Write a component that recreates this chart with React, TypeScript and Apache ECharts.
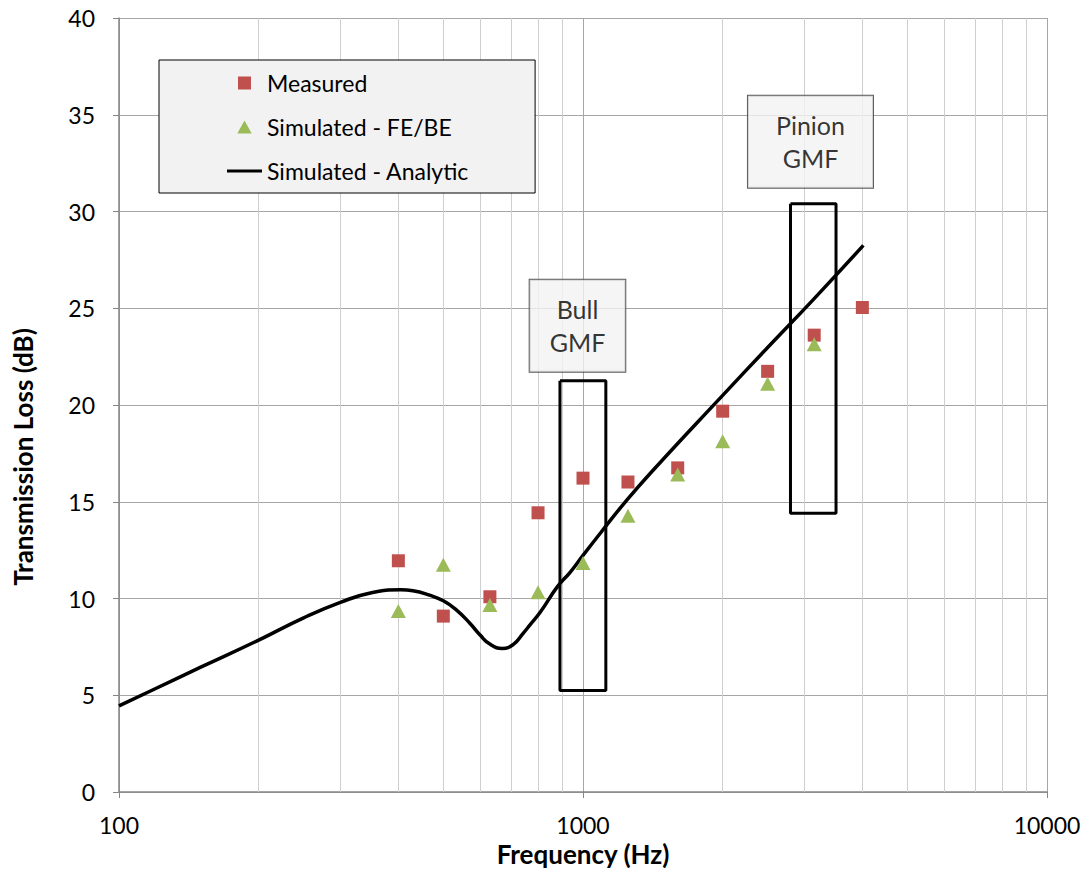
import React, { useEffect, useRef } from "react";
import * as echarts from "echarts";

// ---- data ----
const measuredFreq = [400, 500, 630, 800, 1000, 1250, 1600, 2000, 2500, 3150, 4000];
const measuredTL = [11.95, 9.09, 10.09, 14.43, 16.22, 16.02, 16.75, 19.68, 21.74, 23.61, 25.04];

const feFreq = [400, 500, 630, 800, 1000, 1250, 1600, 2000, 2500, 3150];
const feTL = [9.36, 11.75, 9.67, 10.32, 11.83, 14.28, 16.41, 18.13, 21.1, 23.14];

const analyticFreq = [100, 120, 150, 200, 250, 300, 350, 405, 430, 467, 500, 534, 571, 600, 631, 670, 708, 743, 768, 810, 880, 940, 1000, 1100, 1220, 1400, 2000, 2500, 3150, 4020];
const analyticTL = [4.45, 5.35, 6.45, 7.85, 9.0, 9.8, 10.3, 10.45, 10.4, 10.17, 9.88, 9.4, 8.71, 8.11, 7.63, 7.42, 7.63, 8.2, 8.62, 9.31, 10.6, 11.38, 12.23, 13.5, 14.85, 16.5, 20.5, 22.97, 25.5, 28.25];

const bullBoxFreq = [892, 1120];
const bullBoxTL = [5.25, 21.25];
const pinionBoxFreq = [2800, 3510];
const pinionBoxTL = [14.4, 30.4];

const bullLabelPos = [973, 24.1];
const pinionLabelPos = [3092, 33.6];

const minorGridFreq = [200, 300, 400, 500, 600, 700, 800, 900, 2000, 3000, 4000, 5000, 6000, 7000, 8000, 9000];

const xMin = 100;
const xMax = 10000;
const yMin = 0;
const yMax = 40;
const yInterval = 5;

const seriesNames = ["Measured", "Simulated - FE/BE", "Simulated - Analytic"];

const FONT = "Lato";

function boxPoints(fs: number[], ts: number[]) {
  return [
    [fs[0], ts[1]],
    [fs[1], ts[1]],
    [fs[1], ts[0]],
    [fs[0], ts[0]],
    [fs[0], ts[1]],
  ];
}

export default function App() {
  const ref = useRef<HTMLDivElement>(null);

  useEffect(() => {
    document.body.style.margin = "0";
    document.body.style.overflow = "hidden";
    if (!ref.current) return;
    const chart = echarts.init(ref.current, null, { renderer: "svg" });

    const labelBase = {
      show: true,
      position: "inside",
      color: "#000",
      fontFamily: FONT,
      fontSize: 25,
      lineHeight: 33,
      backgroundColor: "#f2f2f2",
      borderColor: "#333333",
      borderWidth: 1,
    };

    chart.setOption({
      animation: false,
      textStyle: { fontFamily: FONT },
      grid: { left: 119, right: 39, top: 18, bottom: 78, containLabel: false },
      legend: {
        data: [
          { name: seriesNames[0], icon: "path://M0,0H10V10H0Z" },
          { name: seriesNames[1], icon: "path://M5,0L10,9H0Z" },
          { name: seriesNames[2], icon: "path://M0,0H35V3H0Z" },
        ],
        orient: "vertical",
        left: 159,
        top: 60,
        itemWidth: 35,
        itemHeight: 13,
        itemGap: 20,
        padding: [11, 66, 10, 68],
        backgroundColor: "#f2f2f2",
        borderColor: "#000",
        borderWidth: 1,
        borderRadius: 0,
        textStyle: { fontFamily: FONT, fontSize: 23, color: "#000", lineHeight: 24 },
        selectedMode: false,
      },
      xAxis: {
        type: "log",
        logBase: 10,
        min: xMin,
        max: xMax,
        name: "Frequency (Hz)",
        nameLocation: "middle",
        nameGap: 49,
        nameTextStyle: { fontFamily: FONT, fontSize: 26, fontWeight: "bold", color: "#000" },
        axisLine: { show: true, onZero: false, lineStyle: { color: "#868686", width: 1.5 } },
        axisTick: { show: true, inside: false, length: 6, lineStyle: { color: "#868686" } },
        axisLabel: {
          margin: 21,
          fontSize: 23,
          color: "#000",
          fontFamily: FONT,
          formatter: (v: number) => String(Math.round(v)),
        },
        splitLine: { show: true, lineStyle: { color: "#a6a6a6", width: 1 } },
        minorTick: { show: false },
        minorSplitLine: { show: false },
      },
      yAxis: {
        type: "value",
        min: yMin,
        max: yMax,
        interval: yInterval,
        name: "Transmission Loss (dB)",
        nameLocation: "middle",
        nameRotate: 90,
        nameGap: 83,
        nameTextStyle: {
          fontFamily: FONT,
          fontSize: 26,
          fontWeight: "bold",
          color: "#000",
          padding: [0, 104, 0, 0],
        },
        axisLine: { show: true, lineStyle: { color: "#868686", width: 1.5 } },
        axisTick: { show: true, inside: false, length: 6, lineStyle: { color: "#868686" } },
        axisLabel: { margin: 24, fontSize: 23, color: "#000", fontFamily: FONT },
        splitLine: { show: true, lineStyle: { color: "#a6a6a6", width: 1 } },
      },
      series: [
        {
          name: seriesNames[0],
          type: "scatter",
          symbol: "rect",
          symbolSize: 13,
          itemStyle: { color: "#c0504d", opacity: 1 },
          data: measuredFreq.map((f, i) => [f, measuredTL[i]]),
          z: 4,
        },
        {
          name: seriesNames[1],
          type: "scatter",
          symbol: "triangle",
          symbolSize: [15, 14],
          itemStyle: { color: "#9bbb59", opacity: 1 },
          data: feFreq.map((f, i) => [f, feTL[i]]),
          z: 4,
        },
        {
          name: seriesNames[2],
          type: "line",
          symbol: "none",
          showSymbol: false,
          smooth: 0.5,
          lineStyle: { color: "#000", width: 3.5 },
          itemStyle: { color: "#000" },
          data: analyticFreq.map((f, i) => [f, analyticTL[i]]),
          z: 3,
          markLine: {
            silent: true,
            z: 1,
            symbol: ["none", "none"],
            label: { show: false },
            lineStyle: { color: "#cfcfcf", width: 1, type: "solid" },
            data: minorGridFreq.map((f) => ({ xAxis: f })),
          },
        },
        {
          name: "Bull box",
          type: "line",
          symbol: "none",
          lineStyle: { color: "#000", width: 3 },
          data: boxPoints(bullBoxFreq, bullBoxTL),
          z: 3,
        },
        {
          name: "Pinion box",
          type: "line",
          symbol: "none",
          lineStyle: { color: "#000", width: 3 },
          data: boxPoints(pinionBoxFreq, pinionBoxTL),
          z: 3,
        },
        {
          name: "Bull label",
          type: "scatter",
          symbolSize: 1,
          itemStyle: { color: "transparent" },
          z: 5,
          label: { ...labelBase, formatter: "Bull\nGMF", padding: [13, 20, 13, 20] },
          data: [bullLabelPos],
        },
        {
          name: "Pinion label",
          type: "scatter",
          symbolSize: 1,
          itemStyle: { color: "transparent" },
          z: 5,
          label: { ...labelBase, formatter: "Pinion\nGMF", padding: [13, 28, 13, 28] },
          data: [pinionLabelPos],
        },
      ],
    });

    return () => {
      chart.dispose();
    };
  }, []);

  return <div ref={ref} style={{ width: 1086, height: 872 }} />;
}
